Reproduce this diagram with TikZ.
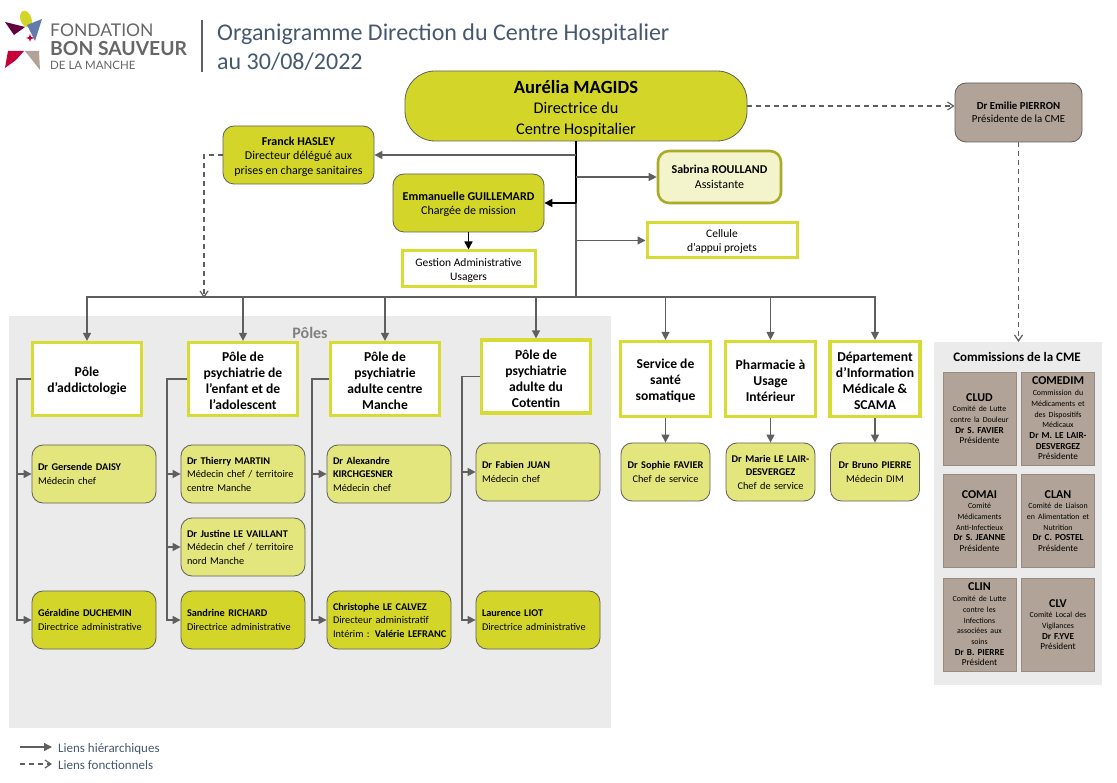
\documentclass[tikz,border=0pt]{standalone}
\usepackage{fontspec}
\setmainfont{Carlito}
\newfontfamily\logofont{Lato}
\usetikzlibrary{arrows.meta}
\definecolor{olive}{HTML}{D3D628}
\definecolor{oliveborder}{HTML}{D8DB33}
\definecolor{lightolive}{HTML}{E3E67C}
\definecolor{paleolive}{HTML}{F3F4CB}
\definecolor{darkolive}{HTML}{ABAB2B}
\definecolor{taupe}{HTML}{B1A397}
\definecolor{panel}{HTML}{EBEBEB}
\definecolor{linkgrey}{HTML}{5F5F5F}
\definecolor{titleblue}{HTML}{465870}
\tikzset{
  boxfont/.style={font=\fontsize{10.3}{13.5}\selectfont},
  largefont/.style={font=\fontsize{12}{14.5}\selectfont},
  roundbox/.style={boxfont, draw=linkgrey, line width=.8pt, rounded corners=11pt, align=center, inner sep=0pt},
  headbox/.style={roundbox, largefont, fill=olive, minimum width=151pt, minimum height=58pt},
  chiefbox/.style={roundbox, fill=lightolive, minimum width=124pt, minimum height=58pt, text width=112pt, align=left},
  adminbox/.style={chiefbox, fill=olive},
  servbox/.style={roundbox, fill=lightolive, minimum width=89pt, minimum height=58pt, text width=86pt},
  framebox/.style={font=\fontsize{11.5}{14}\selectfont, draw=oliveborder, fill=white, line width=3pt, align=center, inner sep=0pt},
  polebox/.style={framebox, line width=3.2pt, font=\fontsize{13.6}{16}\selectfont\bfseries, minimum width=109pt, minimum height=73pt},
  smallpolebox/.style={polebox, minimum width=90pt, minimum height=75pt},
  cmebox/.style={draw=taupe!85!black, fill=taupe, line width=.6pt, minimum width=73pt, minimum height=93pt, text width=71pt, align=center, inner sep=0pt, font=\fontsize{9.2}{10.7}\selectfont},
  link/.style={draw=linkgrey, line width=1.3pt, -{Triangle[length=8pt,width=8pt]}},
  plainlink/.style={draw=linkgrey, line width=1.3pt},
  boldlink/.style={draw=black, line width=1.6pt, -{Triangle[length=8pt,width=8pt]}},
  dashlink/.style={draw=linkgrey, line width=1.2pt, dashed, dash pattern=on 5pt off 4pt, -{Straight Barb[length=6pt,width=8pt]}},
  legendfont/.style={anchor=west, inner sep=0pt, text=titleblue, font=\fontsize{13}{15}\selectfont},
}
\newcommand{\cmacro}[1]{{\fontsize{12}{10.7}\selectfont\bfseries #1}}
\newcommand{\cmsmall}[1]{{\fontsize{7.9}{10.7}\selectfont #1}}
\newcommand{\lift}[1]{\rule{0pt}{#1}}
\begin{document}
\begin{tikzpicture}[x=1pt,y=-1pt]
\useasboundingbox (0,0) rectangle (1117,783);
\fill[panel] (9,316) rectangle (611,728);
\fill[panel] (934,342) rectangle (1102,685);

\fill[olive, rotate around={20:(26,19)}] (26,19) ellipse (5.5pt and 8.5pt);
\fill[violet!55!black!85!red] (5,22) -- (25,27) -- (14,35) -- cycle;
\fill[cyan!45!blue!55!gray] (42,19) -- (27,25) -- (35,41) -- cycle;
\fill[purple!90!red] (30,34) -- (31,37) -- (35,38) -- (31,39) -- (30,42) -- (29,39) -- (26,38) -- (29,37) -- cycle;
\fill[purple!90!red] (8,51) -- (24,51) -- (16,60) -- (5,68) -- cycle;
\fill[taupe] (25,51) -- (39,51) -- (40,70) -- cycle;
\node[anchor=west, inner sep=0pt, text=black!60, font=\logofont\fontsize{17.5}{18}\selectfont] (fondation) at (50,30) {FONDATION};
\node[anchor=west, inner sep=0pt, text=black!60, font=\logofont\fontsize{19.3}{20}\selectfont\bfseries] (bonsauveur) at (50,49) {BON SAUVEUR};
\node[anchor=west, inner sep=0pt, text=black!60, font=\logofont\fontsize{11.5}{12}\selectfont] (manche) at (50,65) {DE LA MANCHE};
\draw[linkgrey, line width=1.4pt] (202,20) -- (202,72);
\node[anchor=north west, inner sep=0pt, text=titleblue, align=left, font=\fontsize{24}{28.5}\selectfont] (title) at (217,24) {Organigramme Direction du Centre Hospitalier\\au 30/08/2022};

\node[roundbox, fill=olive, minimum width=342pt, minimum height=70pt, rounded corners=30pt, font=\fontsize{16.3}{20.5}\selectfont] (magids) at (576,106) {\lift{18pt}{\fontsize{18.6}{20.5}\selectfont\bfseries Aurélia MAGIDS}\\Directrice du\\Centre Hospitalier};
\node[headbox] (hasley) at (298.5,155) {\lift{11.5pt}\textbf{Franck HASLEY}\\Directeur délégué aux\\prises en charge sanitaires};
\node[headbox] (guillemard) at (468.5,203) {\lift{11.5pt}\textbf{Emmanuelle GUILLEMARD}\\Chargée de mission};
\node[roundbox, largefont, draw=darkolive, fill=paleolive, line width=2.6pt, minimum width=123pt, minimum height=52pt] (roulland) at (719.5,177) {\textbf{Sabrina ROULLAND}\\Assistante};
\node[framebox, minimum width=150pt, minimum height=35pt] (cellule) at (722,240.5) {\lift{10.5pt}Cellule\\d’appui projets};
\node[framebox, minimum width=133pt, minimum height=36pt] (gestion) at (468.5,269) {\lift{10.5pt}Gestion Administrative\\Usagers};
\node[roundbox, fill=taupe, font=\fontsize{10.8}{13.5}\selectfont, minimum width=127pt, minimum height=59pt] (pierron) at (1018.5,112.5) {\textbf{Dr Emilie PIERRON}\\Présidente de la CME};

\node[text=black!50, font=\fontsize{16}{18}\selectfont\bfseries] (poles) at (310,333) {Pôles};
\node[polebox] (addicto) at (87,379) {\lift{14pt}Pôle\\d’addictologie};
\node[polebox] (enfant) at (243,379) {\lift{14pt}Pôle de\\psychiatrie de\\l’enfant et de\\l’adolescent};
\node[polebox] (centre) at (385,379) {\lift{14pt}Pôle de\\psychiatrie\\adulte centre\\Manche};
\node[polebox] (cotentin) at (536,376.5) {\lift{14pt}Pôle de\\psychiatrie\\adulte du\\Cotentin};
\node[smallpolebox] (sante) at (665.5,379) {\lift{14pt}Service de\\santé\\somatique};
\node[smallpolebox] (pharmacie) at (770.5,379) {\lift{14pt}Pharmacie à\\Usage\\Intérieur};
\node[smallpolebox] (dim) at (875,379) {\lift{14pt}Département\\d’Information\\Médicale \&\\SCAMA};

\node[chiefbox] (daisy) at (94,474) {\textbf{Dr Gersende DAISY}\\Médecin chef};
\node[adminbox] (duchemin) at (94,620) {\textbf{Géraldine DUCHEMIN}\\Directrice administrative};
\node[chiefbox] (martin) at (243,474) {\textbf{Dr Thierry MARTIN}\\Médecin chef / territoire\\centre Manche};
\node[chiefbox] (vaillant) at (243,547) {\textbf{Dr Justine LE VAILLANT}\\Médecin chef / territoire\\nord Manche};
\node[adminbox] (richard) at (243,620) {\textbf{Sandrine RICHARD}\\Directrice administrative};
\node[chiefbox] (kirchgesner) at (389,474) {\textbf{Dr Alexandre}\\\textbf{KIRCHGESNER}\\Médecin chef};
\node[adminbox] (calvez) at (389,620) {\textbf{Christophe LE CALVEZ}\\Directeur administratif\\\mbox{Intérim : \textbf{Valérie LEFRANC}}};
\node[chiefbox] (juan) at (538,472) {\textbf{Dr Fabien JUAN}\\Médecin chef};
\node[adminbox] (liot) at (538,620) {\textbf{Laurence LIOT}\\Directrice administrative};
\node[servbox] (favier) at (665.5,472) {\textbf{Dr Sophie FAVIER}\\Chef de service};
\node[servbox] (lair) at (770.5,472) {\textbf{Dr Marie LE LAIR-}\\\textbf{DESVERGEZ}\\Chef de service};
\node[servbox] (bruno) at (875,472) {\textbf{Dr Bruno PIERRE}\\Médecin DIM};

\node[font=\fontsize{13}{15}\selectfont\bfseries] (commissions) at (1017,357) {Commissions de la CME};
\node[cmebox] (clud) at (979.5,418.5) {\cmacro{CLUD}\\\cmsmall{Comité de Lutte}\\\cmsmall{contre la Douleur}\\\textbf{Dr S. FAVIER}\\Présidente};
\node[cmebox] (comedim) at (1058,418.5) {\cmacro{COMEDIM}\\\cmsmall{Commission du}\\\cmsmall{Médicaments et}\\\cmsmall{des Dispositifs}\\\cmsmall{Médicaux}\\\textbf{Dr M. LE LAIR-}\\\textbf{DESVERGEZ}\\Présidente};
\node[cmebox] (comai) at (979.5,521) {\cmacro{COMAI}\\\cmsmall{Comité}\\\cmsmall{Médicaments}\\\cmsmall{Anti-Infectieux}\\\textbf{Dr S. JEANNE}\\Présidente};
\node[cmebox] (clan) at (1058,521) {\cmacro{CLAN}\\\cmsmall{Comité de Liaison}\\\cmsmall{en Alimentation et}\\\cmsmall{Nutrition}\\\textbf{Dr C. POSTEL}\\Présidente};
\node[cmebox] (clin) at (979.5,624.5) {\cmacro{CLIN}\\\cmsmall{Comité de Lutte}\\\cmsmall{contre les}\\\cmsmall{Infections}\\\cmsmall{associées aux}\\\cmsmall{soins}\\\textbf{Dr B. PIERRE}\\Président};
\node[cmebox] (clv) at (1058,624.5) {\cmacro{CLV}\\\cmsmall{Comité Local des}\\\cmsmall{Vigilances}\\\textbf{Dr F.YVE}\\Président};
\coordinate (panelcme) at (1018.5,342);

\coordinate (trunk) at (576,203);
\coordinate (bus) at (576,297);
\draw[black, line width=1.7pt] (magids.south -| bus) -- (trunk);
\draw[plainlink] (trunk) -- (bus);
\draw[link] (hasley.east -| bus) -- (hasley.east);
\draw[link] (roulland.west -| bus) -- (roulland.west);
\draw[link] (cellule.west -| bus) -- (cellule.west);
\draw[boldlink] (trunk) -- (guillemard.east |- trunk);
\draw[boldlink] (guillemard) -- (gestion);
\foreach \pole in {addicto,enfant,centre,cotentin,sante,pharmacie,dim}
  \draw[link] (bus) -| (\pole.north);
\foreach \pole/\chief in {sante/favier,pharmacie/lair,dim/bruno}
  \draw[link] (\pole) -- (\chief);
\foreach \pole/\side/\member in {addicto/17/daisy,addicto/17/duchemin,enfant/167/martin,enfant/167/vaillant,enfant/167/richard,centre/312/kirchgesner,centre/312/calvez,cotentin/462/juan,cotentin/462/liot}
  \draw[link] (\pole.west) -- (\side,0 |- \pole.west) |- (\member.west);
\coordinate (hasleydrop) at (204,298);
\draw[dashlink] (hasley.west) -| (hasleydrop);
\draw[dashlink] (magids.east) -- (pierron.west |- magids.east);
\draw[dashlink] (pierron.south) -- (panelcme);

\coordinate (legenda) at (20,747);
\coordinate (legendb) at (52,747);
\coordinate (legendc) at (20,764);
\coordinate (legendd) at (52,764);
\draw[link] (legenda) -- (legendb);
\draw[dashlink] (legendc) -- (legendd);
\node[legendfont] (hier) at (58,749) {Liens hiérarchiques};
\node[legendfont] (fonct) at (58,765) {Liens fonctionnels};
\end{tikzpicture}
\end{document}
